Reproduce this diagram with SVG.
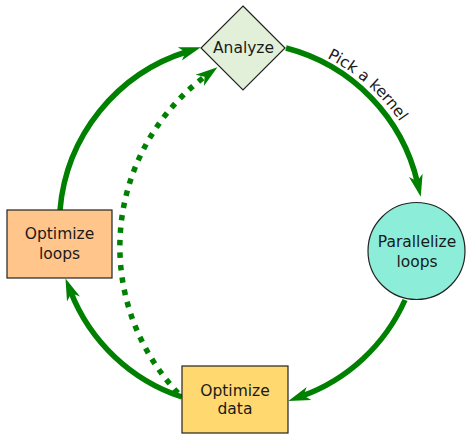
<svg xmlns="http://www.w3.org/2000/svg" width="466" height="434" viewBox="0 0 466 434">
  <style>
    .lbl { font-family: "DejaVu Sans", "Liberation Sans", sans-serif; font-size: 15.5px; fill: #1a1a1a; text-anchor: middle; }
    .node { stroke: #222; stroke-width: 1.2; }
    .flow { fill: none; stroke: #008000; stroke-width: 5.5; marker-end: url(#head); }
    .dotted { stroke-dasharray: 5.5 7; }
  </style>
  <defs>
    <!-- notched arrowhead; the path end sits just past the notch -->
    <marker id="head" markerUnits="userSpaceOnUse" markerWidth="24" markerHeight="16" refX="8" refY="8" orient="auto" overflow="visible">
      <path d="M0,1 L22,8 L0,15 L6,8 Z" fill="#008000"/>
    </marker>
    <path id="labelArc" d="M278,41 A193,193 0 0 1 423,168"/>
  </defs>

  <g id="connectors">
    <path class="flow" d="M286,48 A182,182 0 0 1 417.6,183.2"/>
    <path class="flow" d="M405,300 A180,180 0 0 1 301.5,396.2"/>
    <path class="flow" d="M182,397 A180,180 0 0 1 70.6,291.5"/>
    <path class="flow" d="M60,210 A182,182 0 0 1 187.5,51.5"/>
    <path class="flow dotted" d="M178,393 A213,213 0 0 1 206.2,75.5"/>
    <text class="lbl"><textPath href="#labelArc" startOffset="50%">Pick a kernel</textPath></text>
  </g>

  <g id="analyze">
    <polygon class="node" points="243,6 285,48 243,90 201,48" fill="#e2f0d9"/>
    <text class="lbl" x="243.5" y="53">Analyze</text>
  </g>

  <g id="parallelize">
    <circle class="node" cx="416.5" cy="251" r="48.5" fill="#8ceed8"/>
    <text class="lbl" x="417" y="247">Parallelize</text>
    <text class="lbl" x="417" y="267">loops</text>
  </g>

  <g id="optimize-data">
    <rect class="node" x="182" y="366" width="106" height="67" fill="#ffd970"/>
    <text class="lbl" x="235" y="396">Optimize</text>
    <text class="lbl" x="235" y="414">data</text>
  </g>

  <g id="optimize-loops">
    <rect class="node" x="7" y="210" width="105" height="68" fill="#ffc58a"/>
    <text class="lbl" x="59.5" y="239">Optimize</text>
    <text class="lbl" x="59.5" y="259">loops</text>
  </g>
</svg>
